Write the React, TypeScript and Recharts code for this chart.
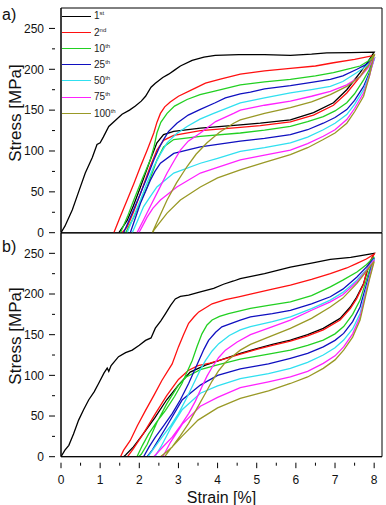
import { LineChart, Line, XAxis, YAxis, ReferenceArea, Legend } from 'recharts';

// cycle names, split so the suffix can be drawn as a superscript
const cycleNums = ['1', '2', '10', '25', '50', '75', '100'];
const cycleSuffix = ['st', 'nd', 'th', 'th', 'th', 'th', 'th'];
const cycleColors = ['#000000', '#ff1010', '#22d022', '#1010c0', '#30e0f0', '#ff22ff', '#999926'];

const strainTicks = [0, 0.5, 1, 1.5, 2, 2.5, 3, 3.5, 4, 4.5, 5, 5.5, 6, 6.5, 7, 7.5, 8];
const stressTicks = [0, 25, 50, 75, 100, 125, 150, 175, 200, 225, 250];

// [strain %, stress MPa] -- loading branch followed by unloading branch
const a1st: [number, number][] = [
  [0, 0], [0.1, 8], [0.29, 28], [0.45, 50], [0.62, 73], [0.8, 92], [0.92, 108], [1.0, 110], [1.08, 117],
  [1.22, 130], [1.4, 138], [1.56, 145], [1.75, 150], [1.9, 155], [2.05, 161], [2.16, 167], [2.3, 178],
  [2.41, 183], [2.6, 190], [2.75, 194], [2.9, 199], [3.05, 204], [3.35, 211], [3.65, 215], [3.94, 217],
  [4.54, 218], [5.2, 218], [5.86, 217], [6.4, 218.5], [6.79, 220], [7.4, 220.5], [8, 221],
  [7.85, 210], [7.64, 196], [7.3, 175], [6.96, 159], [6.45, 147], [5.86, 138], [5.09, 134], [4.58, 132],
  [3.56, 128], [2.88, 124], [2.62, 120], [2.45, 110], [2.28, 89], [2.03, 56], [1.85, 33], [1.69, 15], [1.48, 0],
];
const a2nd: [number, number][] = [
  [1.35, 0], [1.5, 18], [1.69, 40], [1.86, 60], [2.03, 81], [2.2, 101], [2.37, 122], [2.45, 135], [2.54, 146],
  [2.65, 154], [2.79, 160], [3.0, 167], [3.39, 176], [3.69, 183], [4.07, 188], [4.58, 194], [5.2, 198],
  [5.86, 201], [6.5, 204], [6.96, 208], [7.5, 212], [8, 217],
  [7.85, 206], [7.64, 191], [7.3, 171], [6.96, 156], [6.45, 144], [5.86, 135.5], [5.09, 131], [4.58, 129],
  [3.56, 125], [2.88, 119], [2.62, 113], [2.45, 101], [2.28, 81], [2.03, 48], [1.85, 25], [1.69, 7], [1.56, 0],
];
const a10th: [number, number][] = [
  [1.52, 0], [1.7, 20], [1.86, 40], [2.07, 65], [2.28, 89], [2.38, 106], [2.45, 122], [2.55, 135], [2.71, 146],
  [2.9, 155], [3.22, 163], [3.55, 169], [3.9, 173], [4.58, 181], [5.2, 184.5], [5.86, 187.6], [6.5, 192],
  [6.96, 196], [7.4, 201], [7.64, 204], [7.85, 210], [8, 218],
  [7.88, 200], [7.73, 187], [7.5, 170], [7.3, 159], [7.0, 149], [6.7, 142], [6.3, 136], [5.86, 130], [5.2, 125.5],
  [4.58, 122], [3.56, 118], [2.88, 114], [2.62, 105], [2.45, 89], [2.33, 73], [2.2, 56], [2.03, 38], [1.86, 19],
  [1.65, 0],
];
const a25th: [number, number][] = [
  [1.6, 0], [1.8, 22], [2.03, 48], [2.2, 68], [2.37, 89], [2.5, 103], [2.62, 114], [2.75, 124], [2.96, 134],
  [3.25, 144], [3.56, 151], [3.94, 159], [4.2, 165], [4.58, 170], [4.84, 172], [5.2, 176], [5.86, 180],
  [6.4, 184], [6.88, 187.6], [7.2, 192], [7.56, 200], [7.8, 206], [8, 213],
  [7.88, 196], [7.73, 179], [7.5, 162], [7.3, 150.7], [7.0, 141], [6.7, 134], [6.3, 126], [5.86, 120],
  [5.2, 115.5], [4.58, 112], [4.0, 108], [3.56, 105], [2.88, 97], [2.54, 85], [2.4, 75], [2.28, 64],
  [2.03, 36], [1.9, 18], [1.77, 0],
];
const a50th: [number, number][] = [
  [1.69, 0], [1.86, 20], [2.03, 40], [2.2, 61], [2.37, 81], [2.55, 97], [2.71, 110], [2.95, 121], [3.22, 130],
  [3.55, 139], [3.9, 146], [4.58, 159], [5.2, 165], [5.86, 171], [6.4, 175], [6.88, 179], [7.2, 185],
  [7.56, 196], [7.8, 204], [8, 212],
  [7.88, 194], [7.73, 175], [7.5, 157], [7.3, 144.6], [7.0, 134], [6.7, 126], [6.3, 117], [5.86, 110],
  [5.2, 104], [4.58, 99.5], [4.0, 91], [3.56, 85], [2.88, 73], [2.45, 56], [2.25, 42], [2.11, 32],
  [1.95, 14], [1.82, 0],
];
const a75th: [number, number][] = [
  [1.94, 0], [2.1, 15], [2.28, 32], [2.5, 53], [2.71, 73], [2.9, 89], [3.05, 101], [3.25, 112], [3.56, 122],
  [3.95, 136], [4.41, 146], [4.58, 150], [5.2, 156], [5.86, 161], [6.4, 167], [6.88, 173], [7.3, 181],
  [7.64, 191], [7.85, 202], [8, 214],
  [7.88, 192], [7.73, 171], [7.5, 152], [7.3, 138.5], [7.0, 126], [6.7, 118], [6.3, 109], [5.86, 101],
  [5.2, 95], [4.58, 89], [4.0, 80], [3.56, 73], [2.96, 56], [2.54, 40], [2.35, 30], [2.2, 19], [2.08, 8],
  [1.99, 0],
];
const a100th: [number, number][] = [
  [2.33, 0], [2.5, 18], [2.71, 40], [2.95, 61], [3.22, 81], [3.45, 96], [3.73, 110], [4.05, 123], [4.41, 134],
  [4.58, 138], [5.2, 146], [5.86, 153], [6.4, 160], [6.88, 169], [7.3, 179], [7.64, 191], [7.85, 204], [8, 219],
  [7.88, 192], [7.73, 167], [7.5, 148], [7.3, 134], [7.0, 122], [6.7, 114], [6.3, 104], [5.86, 95.5],
  [5.2, 86], [4.58, 77], [4.0, 67], [3.56, 56], [3.05, 40], [2.71, 24], [2.5, 11], [2.37, 3], [2.35, 0],
];

const b1st: [number, number][] = [
  [0, 0], [0.1, 8], [0.2, 14], [0.32, 28], [0.45, 45], [0.58, 58], [0.71, 70], [0.85, 80], [0.96, 90],
  [1.1, 103], [1.18, 109], [1.22, 105], [1.28, 112], [1.47, 123], [1.65, 128], [1.82, 131], [2.0, 137],
  [2.16, 143], [2.3, 146], [2.41, 158], [2.55, 167], [2.67, 176], [2.8, 186], [2.92, 194], [3.05, 197],
  [3.26, 198.6], [3.56, 202.7], [3.9, 207], [4.15, 212], [4.41, 216], [4.58, 219], [5.2, 225], [5.86, 233],
  [6.4, 238], [6.88, 242.5], [7.4, 245], [8, 250],
  [7.87, 236], [7.73, 213], [7.55, 196], [7.39, 184], [7.13, 170], [6.7, 157.7], [6.3, 150], [5.86, 143.4],
  [5.4, 138], [5.0, 133], [4.58, 127], [4.2, 121], [3.69, 112.6], [3.3, 104], [3.0, 88], [2.7, 70],
  [2.4, 48], [2.1, 28], [1.85, 12], [1.65, 2], [1.6, 0],
];
const b2nd: [number, number][] = [
  [1.52, 0], [1.6, 8], [1.77, 20], [1.95, 38], [2.16, 57], [2.38, 76], [2.58, 94], [2.84, 114], [3.0, 135],
  [3.13, 150], [3.26, 164], [3.4, 172], [3.52, 178], [3.86, 188], [4.2, 193], [4.54, 196.6], [4.84, 200],
  [5.4, 206], [5.86, 211], [6.4, 218], [6.88, 225], [7.3, 232], [7.56, 237.6], [7.8, 243], [8, 249],
  [7.85, 236], [7.73, 212], [7.55, 194], [7.39, 182], [7.13, 168], [6.7, 156], [6.3, 148.5], [5.86, 142],
  [5.4, 137], [5.0, 132], [4.58, 126], [4.2, 120.5], [3.8, 115], [3.5, 112], [3.25, 106], [3.0, 95],
  [2.7, 75], [2.4, 52], [2.1, 28], [1.85, 10], [1.7, 0],
];
const b10th: [number, number][] = [
  [1.94, 0], [2.08, 14], [2.24, 28], [2.45, 43], [2.67, 57], [2.9, 74], [3.09, 90], [3.22, 104], [3.35, 118],
  [3.48, 136], [3.6, 151], [3.73, 162], [3.86, 168], [4.05, 172.5], [4.28, 176], [4.84, 182.3], [5.3, 186],
  [5.86, 190.4], [6.4, 198], [6.88, 208.8], [7.2, 217], [7.56, 227], [7.8, 236], [8, 245.7],
  [7.85, 225], [7.64, 192.5], [7.45, 175], [7.22, 160], [7.0, 151], [6.7, 143.4], [6.3, 137], [5.86, 131],
  [5.3, 126], [4.58, 120], [4.0, 113], [3.56, 107], [3.2, 98], [3.0, 88], [2.7, 65], [2.45, 42], [2.2, 15],
  [2.05, 3], [1.98, 0],
];
const b25th: [number, number][] = [
  [2.11, 0], [2.25, 12], [2.41, 24], [2.62, 38], [2.84, 53], [3.05, 70], [3.26, 90], [3.4, 105], [3.52, 118],
  [3.65, 132], [3.77, 143], [3.95, 153], [4.11, 159.7], [4.58, 168], [4.84, 172], [5.4, 176], [5.86, 180],
  [6.4, 188], [6.88, 196.6], [7.2, 206], [7.56, 221], [7.8, 233], [8, 244],
  [7.88, 225], [7.64, 184], [7.45, 166], [7.22, 151.6], [7.0, 143], [6.7, 135], [6.3, 127], [5.86, 121],
  [5.3, 114], [4.58, 108], [4.0, 100], [3.56, 88], [3.1, 70], [2.67, 35], [2.33, 8], [2.2, 0],
];
const b50th: [number, number][] = [
  [2.22, 0], [2.4, 12], [2.58, 24], [2.8, 38], [3.0, 53], [3.22, 73], [3.43, 94], [3.56, 107], [3.69, 118],
  [3.86, 130], [4.03, 139], [4.3, 149], [4.58, 156], [4.84, 160], [5.4, 166], [5.86, 172], [6.4, 182],
  [6.88, 192.5], [7.2, 202], [7.56, 217], [7.8, 230], [8, 243],
  [7.88, 222], [7.64, 176], [7.45, 157], [7.22, 143.4], [7.0, 134], [6.7, 125], [6.3, 116], [5.86, 108.6],
  [5.3, 102], [4.58, 96], [4.0, 87], [3.56, 78], [3.1, 58], [2.8, 35], [2.55, 12], [2.4, 0],
];
const b75th: [number, number][] = [
  [2.37, 0], [2.6, 12], [2.84, 24], [3.05, 38], [3.26, 53], [3.43, 68], [3.6, 86], [3.73, 99], [3.86, 110],
  [4.03, 122], [4.2, 131], [4.5, 141], [4.84, 150], [5.3, 158], [5.86, 168], [6.4, 180], [6.88, 190.4],
  [7.2, 199], [7.56, 215], [7.8, 229], [8, 242],
  [7.88, 220], [7.64, 172], [7.45, 151], [7.22, 135], [7.0, 124], [6.7, 114.7], [6.3, 105], [5.86, 98],
  [5.3, 92], [4.58, 85], [4.0, 73], [3.56, 62], [3.1, 40], [2.8, 18], [2.6, 0],
];
const b100th: [number, number][] = [
  [2.54, 0], [2.7, 6], [2.84, 12], [3.05, 26], [3.26, 41], [3.48, 60], [3.69, 78], [3.86, 93], [4.03, 106],
  [4.2, 116], [4.37, 123], [4.58, 131], [4.84, 138], [5.3, 147], [5.86, 157.7], [6.4, 170], [6.88, 184],
  [7.2, 195], [7.56, 213], [7.8, 228], [8, 240],
  [7.88, 218], [7.64, 168], [7.45, 147], [7.22, 131], [7.0, 119], [6.7, 108.6], [6.3, 98], [5.86, 90],
  [5.3, 81], [4.58, 71.7], [4.0, 60], [3.5, 45], [3.09, 25], [2.8, 10], [2.65, 0],
];

const panelALoops = [a1st, a2nd, a10th, a25th, a50th, a75th, a100th];
const panelBLoops = [b1st, b2nd, b10th, b25th, b50th, b75th, b100th];

const FONT = '"Liberation Sans", Arial, sans-serif';
const toPoints = (loop: [number, number][]) => loop.map(([x, y]) => ({ x, y }));

const StressTick = ({ x, y, payload }: any) => {
  const major = payload.value % 50 === 0;
  return (
    <g>
      <line x1={x} x2={x - (major ? 6 : 3)} y1={y} y2={y} stroke="#000" />
      {major && (
        <text x={x - 11} y={y + 4.3} textAnchor="end" fontSize={12} fontFamily={FONT} fill="#111">
          {payload.value}
        </text>
      )}
    </g>
  );
};

const makeStrainTick = (withLabels: boolean) => ({ x, y, payload }: any) => {
  const major = Number.isInteger(payload.value);
  return (
    <g>
      <line x1={x} x2={x} y1={y} y2={y + (major ? 5.5 : 3)} stroke="#000" />
      {withLabels && major && (
        <text x={x} y={y + 21} textAnchor="middle" fontSize={12} fontFamily={FONT} fill="#111">
          {payload.value}
        </text>
      )}
    </g>
  );
};

const makeStressLabel = (letter: string, letterY: number, titleY: number) => () => (
  <g fontFamily={FONT} fill="#111">
    <text x={2} y={letterY} fontSize={16}>{letter}</text>
    <text
      x={15}
      y={titleY}
      transform={`rotate(-90 15 ${titleY})`}
      textAnchor="middle"
      dominantBaseline="central"
      fontSize={17}
    >
      Stress [MPa]
    </text>
  </g>
);

const strainLabel = () => (
  <text x={221.5} y={278} textAnchor="middle" fontSize={16} fontFamily={FONT} fill="#111">
    Strain [%]
  </text>
);

const renderLegend = () => (
  <div style={{ fontFamily: FONT, fontSize: 10, color: '#222' }}>
    {cycleNums.map((n, i) => (
      <div key={n} style={{ display: 'flex', alignItems: 'center', height: 16.2 }}>
        <span style={{ width: 29, borderTop: `1.7px solid ${cycleColors[i]}`, marginRight: 3 }} />
        <span>
          {n}
          <sup style={{ fontSize: 6 }}>{cycleSuffix[i]}</sup>
        </span>
      </div>
    ))}
  </div>
);

interface PanelProps {
  loops: [number, number][][];
  top: number;
  height: number;
  bottom: number;
  axisHeight: number;
  letter: string;
  letterY: number;
  titleY: number;
  bottomPanel: boolean;
}

function Panel({ loops, top, height, bottom, axisHeight, letter, letterY, titleY, bottomPanel }: PanelProps) {
  return (
    <div style={{ position: 'absolute', left: 0, top }}>
      <LineChart width={386} height={height} margin={{ top: 8, right: 4, left: 0, bottom }}>
        <XAxis
          type="number"
          dataKey="x"
          domain={[0, 8.2]}
          ticks={strainTicks}
          interval={0}
          allowDataOverflow
          height={axisHeight}
          tickLine={false}
          tickMargin={0}
          axisLine={{ stroke: '#000' }}
          tick={makeStrainTick(bottomPanel)}
          label={bottomPanel ? strainLabel : undefined}
        />
        <YAxis
          type="number"
          dataKey="y"
          domain={[0, 275]}
          ticks={stressTicks}
          interval={0}
          allowDataOverflow
          width={61}
          tickLine={false}
          tickMargin={0}
          axisLine={{ stroke: '#000' }}
          tick={StressTick}
          label={makeStressLabel(letter, letterY, titleY)}
        />
        <ReferenceArea x1={0} x2={8.2} y1={0} y2={275} fill="none" stroke="#000" strokeWidth={1} />
        {loops.map((loop, i) => (
          <Line
            key={cycleNums[i]}
            data={toPoints(loop)}
            dataKey="y"
            type="linear"
            stroke={cycleColors[i]}
            strokeWidth={1.3}
            dot={false}
            activeDot={false}
            isAnimationActive={false}
          />
        ))}
        {!bottomPanel && (
          <Legend
            layout="vertical"
            align="center"
            verticalAlign="middle"
            content={renderLegend}
            wrapperStyle={{ top: 8, left: 62, width: 'auto', height: 'auto' }}
          />
        )}
      </LineChart>
    </div>
  );
}

export default function App() {
  return (
    <div style={{ position: 'absolute', left: 0, top: 0, width: 386, height: 505, background: '#fff' }}>
      <Panel
        loops={panelALoops}
        top={0}
        height={240}
        bottom={7.3}
        axisHeight={0}
        letter="a)"
        letterY={19.5}
        titleY={113}
        bottomPanel={false}
      />
      <Panel
        loops={panelBLoops}
        top={225}
        height={280}
        bottom={18.3}
        axisHeight={30}
        letter="b)"
        letterY={27}
        titleY={111}
        bottomPanel
      />
    </div>
  );
}
